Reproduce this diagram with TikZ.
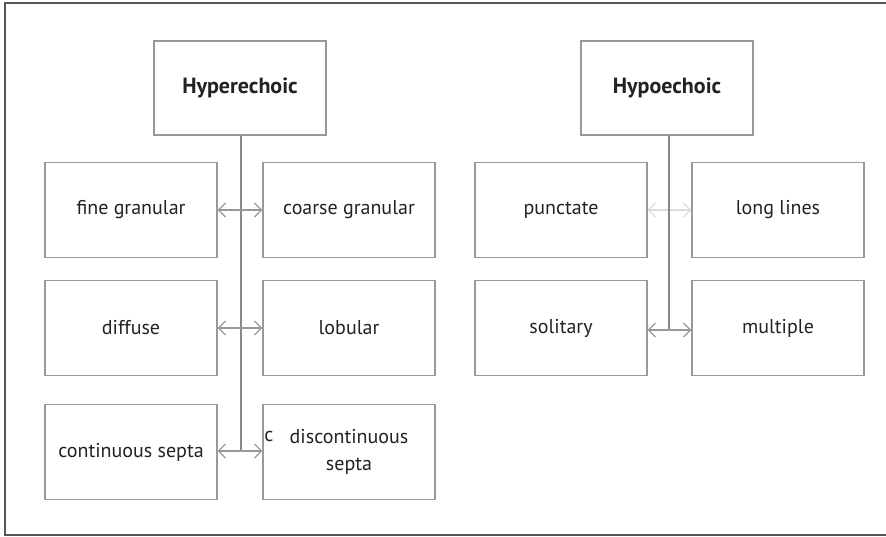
\documentclass[tikz,border=0pt]{standalone}
\usepackage{fontspec}
\setmainfont{PT Sans}
\usetikzlibrary{arrows.meta}
\definecolor{boxgray}{HTML}{999999}
\definecolor{linegray}{HTML}{888888}
\definecolor{lightarr}{HTML}{DDDDDD}
\definecolor{framegray}{HTML}{555555}
\definecolor{txt}{HTML}{222222}
\begin{document}
\begin{tikzpicture}[x=1pt,y=-1pt,
  cat/.style={draw=boxgray,line width=1.2pt,minimum width=172pt,minimum height=94pt,inner sep=0pt,font=\fontsize{22}{25}\selectfont\bfseries,text=txt},
  sub/.style={draw=boxgray,line width=1.2pt,minimum width=172pt,minimum height=95pt,inner sep=0pt,font=\fontsize{20}{25}\selectfont,text=txt,align=center},
  stem/.style={draw=linegray,line width=1.5pt},
  dbl/.style={draw=boxgray,line width=1.2pt,{Straight Barb[length=7pt,width=14pt]}-{Straight Barb[length=7pt,width=14pt]}},
  dbllight/.style={draw=lightarr,line width=1.2pt,{Straight Barb[length=7pt,width=14pt]}-{Straight Barb[length=7pt,width=14pt]}}]
\useasboundingbox (0,0) rectangle (886,537);
\draw[framegray,line width=2pt] (900,3) -- (5,3) -- (5,535) -- (900,535);
% Hyperechoic
\node[cat] (hyper) at (240,88) {Hyperechoic};
\node[sub] (fine) at (131,210) {fine granular};
\node[sub] (coarse) at (349,210) {coarse granular};
\node[sub] (diffuse) at (131,328) {diffuse};
\node[sub] (lobular) at (349,328) {lobular};
\node[sub] (cont) at (131,452) {continuous septa};
\node[sub] (disc) at (349,452) {\raisebox{-8pt}{\begin{tabular}{@{}c@{}}discontinuous\\[2pt]septa\end{tabular}}};
\node[font=\fontsize{20}{24}\selectfont,text=txt,inner sep=0pt] (cstray) at (269,436) {c};
\coordinate (h1) at (241,210);
\coordinate (h2) at (241,328);
\coordinate (h3) at (241,451);
\draw[stem] (hyper.south -| h1) -- (h3);
\draw[dbl] (fine.east |- h1) -- (coarse.west |- h1);
\draw[dbl] (diffuse.east |- h2) -- (lobular.west |- h2);
\draw[dbl] (cont.east |- h3) -- (disc.west |- h3);
% Hypoechoic
\node[cat] (hypo) at (667,88) {Hypoechoic};
\node[sub] (punct) at (561,210) {punctate};
\node[sub] (long) at (778,210) {long lines};
\node[sub] (solit) at (561,328) {solitary};
\node[sub] (mult) at (778,328) {multiple};
\coordinate (p1) at (669,210);
\coordinate (p2) at (669,330);
\draw[dbllight] (punct.east |- p1) -- (long.west |- p1);
\draw[stem] (hypo.south -| p1) -- (p2);
\draw[dbl] (solit.east |- p2) -- (mult.west |- p2);
\end{tikzpicture}
\end{document}
